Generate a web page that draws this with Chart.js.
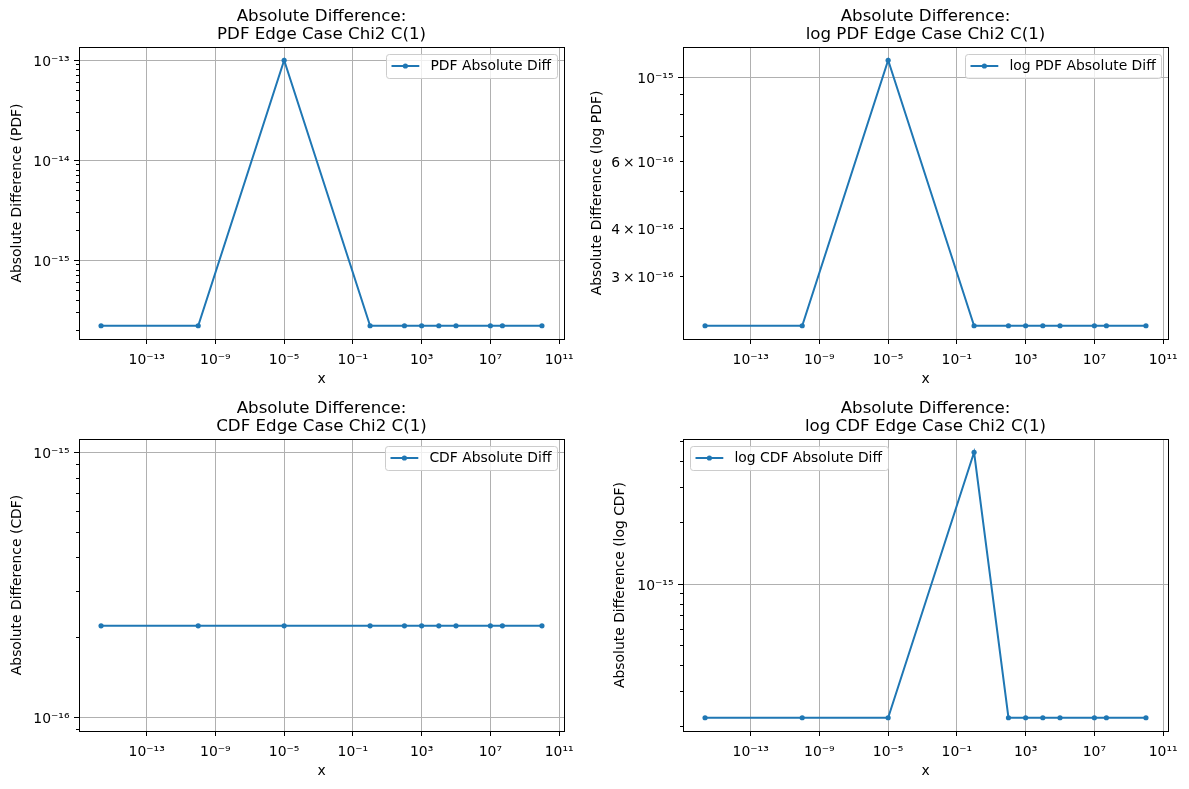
<!DOCTYPE html>
<html>
<head>
<meta charset="utf-8">
<script src="https://cdn.jsdelivr.net/npm/chart.js@4.4.0/dist/chart.umd.min.js"></script>
<style>
    html, body { margin: 0; padding: 0; background: #fff; }
    body { width: 1189px; height: 789px; position: relative; overflow: hidden; }
    canvas { position: absolute; }
</style>
</head>
<body>
<canvas id="pdfDiff"></canvas>
<canvas id="logPdfDiff"></canvas>
<canvas id="cdfDiff"></canvas>
<canvas id="logCdfDiff"></canvas>
<script>
// x values of the edge cases (same for all four panels)
const xValues = [2.22e-16, 1e-10, 1e-5, 1, 100, 1000, 1e4, 1e5, 1e7, 5e7, 1e10];

// absolute differences
const pdfAbsDiff    = [2.22e-16, 2.22e-16, 1e-13,    2.22e-16, 2.22e-16, 2.22e-16, 2.22e-16, 2.22e-16, 2.22e-16, 2.22e-16, 2.22e-16];
const logPdfAbsDiff = [2.22e-16, 2.22e-16, 1.11e-15, 2.22e-16, 2.22e-16, 2.22e-16, 2.22e-16, 2.22e-16, 2.22e-16, 2.22e-16, 2.22e-16];
const cdfAbsDiff    = [2.22e-16, 2.22e-16, 2.22e-16, 2.22e-16, 2.22e-16, 2.22e-16, 2.22e-16, 2.22e-16, 2.22e-16, 2.22e-16, 2.22e-16];
const logCdfAbsDiff = [2.22e-16, 2.22e-16, 2.22e-16, 4.44e-15, 2.22e-16, 2.22e-16, 2.22e-16, 2.22e-16, 2.22e-16, 2.22e-16, 2.22e-16];

// labelled ticks
const xTicks = [1e-13, 1e-9, 1e-5, 1e-1, 1e3, 1e7, 1e11];
const pdfYTicks = [1e-15, 1e-14, 1e-13];
const logPdfYTicks = [3e-16, 4e-16, 6e-16, 1e-15];
const cdfYTicks = [1e-16, 1e-15];
const logCdfYTicks = [1e-15];

Chart.defaults.font.family = "'DejaVu Sans', sans-serif";
Chart.defaults.font.size = 13.9;
Chart.defaults.color = '#000';

const BLUE = '#1f77b4';
const SUP = {'-': '⁻', '0': '⁰', '1': '¹', '2': '²', '3': '³', '4': '⁴', '5': '⁵', '6': '⁶', '7': '⁷', '8': '⁸', '9': '⁹'};

function sciLabel(v) {
    const e = Math.floor(Math.log10(v) + 1e-9);
    const m = Math.round(v / Math.pow(10, e));
    const pow = '10' + String(e).split('').map(c => SUP[c]).join('');
    return m === 1 ? pow : m + '\u2009×\u2009' + pow;
}

// matplotlib style limits: 5% margin in log space
function logLimits(vals) {
    let lo = Math.log10(Math.min(...vals));
    let hi = Math.log10(Math.max(...vals));
    if (hi - lo < 1e-12) {
        lo = Math.floor(lo);
        hi = Math.ceil(hi);
    }
    const m = 0.05 * (hi - lo);
    return [Math.pow(10, lo - m), Math.pow(10, hi + m)];
}

function buildYTicks(min, max, labelled) {
    const out = [];
    for (let n = Math.floor(Math.log10(min)); n <= Math.ceil(Math.log10(max)); n++) {
        for (let k = 1; k <= 9; k++) {
            const v = Number(k + 'e' + n);
            if (v < min || v > max) continue;
            const hasLabel = labelled.some(t => Math.abs(t / v - 1) < 1e-9);
            out.push({ value: v, major: k === 1, text: hasLabel ? sciLabel(v) : '' });
        }
    }
    return out;
}

function alignPx(p) {
    return Math.round(p - 0.5) + 0.5;
}

// frame, minor ticks and the in-axes legend
const axesDecor = {
    id: 'axesDecor',
    afterDatasetsDraw(chart) {
        const { ctx, chartArea: a } = chart;
        const ys = chart.scales.y;
        ctx.save();
        ctx.strokeStyle = '#000';
        ctx.lineWidth = 1;
        ctx.beginPath();
        ys.ticks.forEach(t => {
            if (t.major) return;
            const py = alignPx(ys.getPixelForValue(t.value));
            ctx.moveTo(a.left - 3, py);
            ctx.lineTo(a.left, py);
        });
        ctx.stroke();
        const l = alignPx(a.left), r = alignPx(a.right), t = alignPx(a.top), b = alignPx(a.bottom);
        ctx.strokeRect(l, t, r - l, b - t);
        ctx.restore();
    },
    afterDraw(chart, args, opts) {
        if (!opts.text) return;
        const { ctx, chartArea: a } = chart;
        ctx.save();
        ctx.font = "13.9px 'DejaVu Sans'";
        const tw = ctx.measureText(opts.text).width;
        const w = Math.round(5.6 + 27.8 + 11.1 + tw + 5.6);
        const h = 24;
        const x = (opts.corner === 'left' ? Math.round(a.left + 7) : Math.round(a.right - 7 - w)) + 0.5;
        const y = Math.round(a.top + 7) + 0.5;
        const rr = 2.8;
        ctx.beginPath();
        ctx.moveTo(x + rr, y);
        ctx.arcTo(x + w, y, x + w, y + h, rr);
        ctx.arcTo(x + w, y + h, x, y + h, rr);
        ctx.arcTo(x, y + h, x, y, rr);
        ctx.arcTo(x, y, x + w, y, rr);
        ctx.closePath();
        ctx.fillStyle = 'rgba(255,255,255,0.8)';
        ctx.fill();
        ctx.strokeStyle = '#cccccc';
        ctx.lineWidth = 1;
        ctx.stroke();
        const cy = y + h / 2 - 0.5;
        const hx = x + 5;
        ctx.beginPath();
        ctx.moveTo(hx, cy);
        ctx.lineTo(hx + 27.8, cy);
        ctx.strokeStyle = BLUE;
        ctx.lineWidth = 2;
        ctx.stroke();
        ctx.beginPath();
        ctx.arc(hx + 13.9, cy, 2.6, 0, Math.PI * 2);
        ctx.fillStyle = BLUE;
        ctx.fill();
        ctx.fillStyle = '#000';
        ctx.textBaseline = 'middle';
        ctx.textAlign = 'left';
        ctx.fillText(opts.text, hx + 27.8 + 11.1, cy);
        ctx.restore();
    }
};

function makePanel(p) {
    const canvas = document.getElementById(p.id);
    const cw = p.canvasRight - p.canvasLeft;
    const ch = p.canvasBottom - p.canvasTop;
    canvas.width = cw;
    canvas.height = ch;
    canvas.style.left = p.canvasLeft + 'px';
    canvas.style.top = p.canvasTop + 'px';
    canvas.style.width = cw + 'px';
    canvas.style.height = ch + 'px';

    const [xMin, xMax] = logLimits(xValues);
    const [yMin, yMax] = logLimits(p.values);
    const yTickList = buildYTicks(yMin, yMax, p.yTicks);
    const xTickList = xTicks.map(v => ({ value: v, major: true, text: sciLabel(v) }));

    new Chart(canvas.getContext('2d'), {
        type: 'line',
        data: {
            datasets: [{
                label: p.legend,
                data: xValues.map((x, i) => ({ x: x, y: p.values[i] })),
                borderColor: BLUE,
                backgroundColor: BLUE,
                borderWidth: 2,
                pointRadius: 2.6,
                pointBorderWidth: 0,
                pointBackgroundColor: BLUE,
                tension: 0,
                fill: false
            }]
        },
        options: {
            responsive: false,
            animation: false,
            devicePixelRatio: 1,
            layout: {
                padding: { left: 0, top: 0, right: p.canvasRight - p.right, bottom: p.canvasBottom - p.bottom - 50 }
            },
            plugins: {
                legend: { display: false },
                tooltip: { enabled: false },
                title: {
                    display: true,
                    text: ['Absolute Difference:', p.title],
                    fullSize: false,
                    color: '#000',
                    font: { size: 16.67, weight: 'normal', lineHeight: 1.08 },
                    padding: { top: 7.3, bottom: p.top - p.canvasTop - 36 - 7.3 }
                },
                axesDecor: { text: p.legend, corner: p.corner }
            },
            scales: {
                x: {
                    type: 'logarithmic',
                    min: xMin,
                    max: xMax,
                    afterBuildTicks: s => { s.ticks = xTickList.map(t => Object.assign({}, t)); },
                    afterFit: s => { s.height = 50; },
                    ticks: {
                        autoSkip: false,
                        maxRotation: 0,
                        minRotation: 0,
                        padding: 8,
                        color: '#000',
                        callback: (v, i, ticks) => ticks[i].text
                    },
                    grid: { color: '#b0b0b0', lineWidth: 1, tickColor: '#000', tickLength: 5, tickWidth: 1 },
                    border: { display: false },
                    title: { display: true, text: 'x', color: '#000', padding: { top: 0, bottom: 1 } }
                },
                y: {
                    type: 'logarithmic',
                    min: yMin,
                    max: yMax,
                    afterBuildTicks: s => { s.ticks = yTickList.map(t => Object.assign({}, t)); },
                    afterFit: s => { s.width = p.left - p.canvasLeft; },
                    ticks: {
                        autoSkip: false,
                        padding: 4.5,
                        labelOffset: 2,
                        color: '#000',
                        callback: (v, i, ticks) => ticks[i].text
                    },
                    grid: {
                        color: c => (c.tick && c.tick.major) ? '#b0b0b0' : 'rgba(0,0,0,0)',
                        tickColor: c => (c.tick && c.tick.major) ? '#000' : 'rgba(0,0,0,0)',
                        lineWidth: 1,
                        tickLength: 5,
                        tickWidth: 1
                    },
                    border: { display: false },
                    title: { display: true, text: p.yTitle, color: '#000', padding: { top: 0, bottom: 0 } }
                }
            }
        },
        plugins: [axesDecor]
    });
}

makePanel({
    id: 'pdfDiff', values: pdfAbsDiff, yTicks: pdfYTicks,
    title: 'PDF Edge Case Chi2 C(1)', yTitle: 'Absolute Difference (PDF)',
    legend: 'PDF Absolute Diff', corner: 'right',
    canvasLeft: 9, canvasRight: 594, canvasTop: 0, canvasBottom: 392,
    left: 79, right: 564, top: 47, bottom: 339
});

makePanel({
    id: 'logPdfDiff', values: logPdfAbsDiff, yTicks: logPdfYTicks,
    title: 'log PDF Edge Case Chi2 C(1)', yTitle: 'Absolute Difference (log PDF)',
    legend: 'log PDF Absolute Diff', corner: 'right',
    canvasLeft: 589, canvasRight: 1189, canvasTop: 0, canvasBottom: 392,
    left: 683, right: 1168, top: 47, bottom: 339
});

makePanel({
    id: 'cdfDiff', values: cdfAbsDiff, yTicks: cdfYTicks,
    title: 'CDF Edge Case Chi2 C(1)', yTitle: 'Absolute Difference (CDF)',
    legend: 'CDF Absolute Diff', corner: 'right',
    canvasLeft: 9, canvasRight: 594, canvasTop: 392, canvasBottom: 789,
    left: 79, right: 564, top: 439, bottom: 731
});

makePanel({
    id: 'logCdfDiff', values: logCdfAbsDiff, yTicks: logCdfYTicks,
    title: 'log CDF Edge Case Chi2 C(1)', yTitle: 'Absolute Difference (log CDF)',
    legend: 'log CDF Absolute Diff', corner: 'left',
    canvasLeft: 612, canvasRight: 1189, canvasTop: 392, canvasBottom: 789,
    left: 683, right: 1168, top: 439, bottom: 731
});
</script>
</body>
</html>
